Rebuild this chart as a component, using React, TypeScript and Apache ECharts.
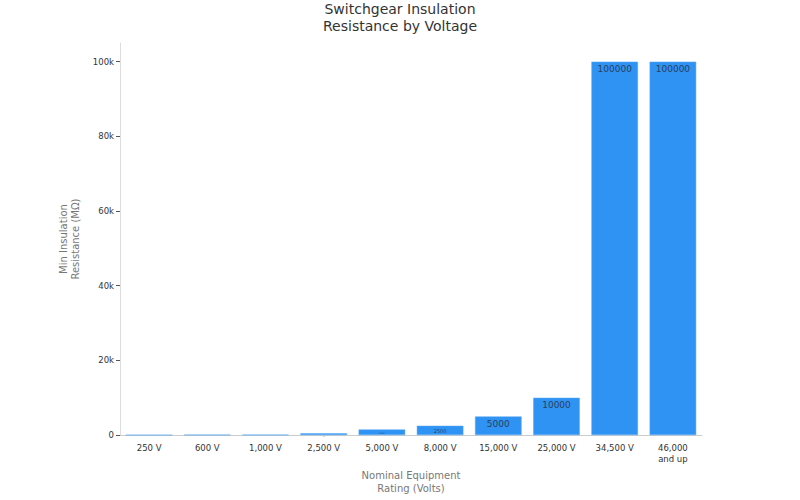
import * as echarts from 'echarts'
import { useEffect, useRef } from 'react'

const categories = ['250 V', '600 V', '1,000 V', '2,500 V', '5,000 V', '8,000 V', '15,000 V', '25,000 V', '34,500 V', '46,000\nand up']
const resistance = [25, 100, 100, 500, 1500, 2500, 5000, 10000, 100000, 100000]
// label sizes shrink to fit the short bars
const labelSizes = [0, 0, 0, 1, 2, 5, 9, 9, 9, 9]
const yTicks = [0, 20000, 40000, 60000, 80000, 100000]

const font = 'DejaVu Sans'

export default function App() {
  const chartRef = useRef<HTMLDivElement>(null)

  useEffect(() => {
    document.body.style.margin = '0'
    const element = chartRef.current
    if (!element) return
    const instance = echarts.init(element, null, { renderer: 'svg' })
    instance.setOption({
      animation: false,
      backgroundColor: '#fff',
      textStyle: { fontFamily: font },
      title: {
        text: 'Switchgear Insulation\nResistance by Voltage',
        left: 'center',
        top: -5,
        textStyle: { fontFamily: font, fontSize: 14, fontWeight: 'normal', color: '#333', lineHeight: 17 },
      },
      grid: { left: 120, right: 98, top: 43, bottom: 60, containLabel: false },
      xAxis: {
        type: 'category',
        data: categories,
        name: 'Nominal Equipment\nRating (Volts)',
        nameLocation: 'middle',
        nameGap: 33,
        nameTextStyle: { fontFamily: font, fontSize: 10, color: '#777', lineHeight: 13 },
        axisLine: { lineStyle: { color: '#ccc', width: 1 } },
        axisTick: { alignWithLabel: true, length: 4, lineStyle: { color: '#555' } },
        axisLabel: { fontFamily: font, fontSize: 8.5, color: '#333', margin: 7, lineHeight: 11 },
      },
      yAxis: {
        type: 'value',
        min: 0,
        max: 105000,
        name: 'Min Insulation\nResistance (MΩ)',
        nameLocation: 'middle',
        nameGap: 33,
        nameTextStyle: { fontFamily: font, fontSize: 10, color: '#777', lineHeight: 12 },
        axisLine: { show: true, lineStyle: { color: '#ddd', width: 1 } },
        axisTick: { show: true, length: 4, lineStyle: { color: '#555' }, customValues: yTicks },
        axisLabel: {
          fontFamily: font,
          fontSize: 8.5,
          color: '#333',
          margin: 6,
          customValues: yTicks,
          formatter: (value: number) => (value === 0 ? '0' : `${value / 1000}k`),
        },
        splitLine: { show: false },
      },
      series: [
        {
          type: 'bar',
          barCategoryGap: '20%',
          data: resistance.map((value, i) => ({
            value,
            label: { show: labelSizes[i] > 0, fontSize: labelSizes[i] },
          })),
          itemStyle: { color: '#2f93f3', borderColor: '#5aa9f6', borderWidth: 0.5 },
          label: {
            show: true,
            position: 'insideTop',
            distance: 3,
            fontFamily: font,
            color: '#2a3f5f',
            formatter: (p: { value: number }) => `${p.value}`,
          },
        },
      ],
    })
    return () => instance.dispose()
  }, [])

  return <div ref={chartRef} style={{ width: 800, height: 500 }} />
}
